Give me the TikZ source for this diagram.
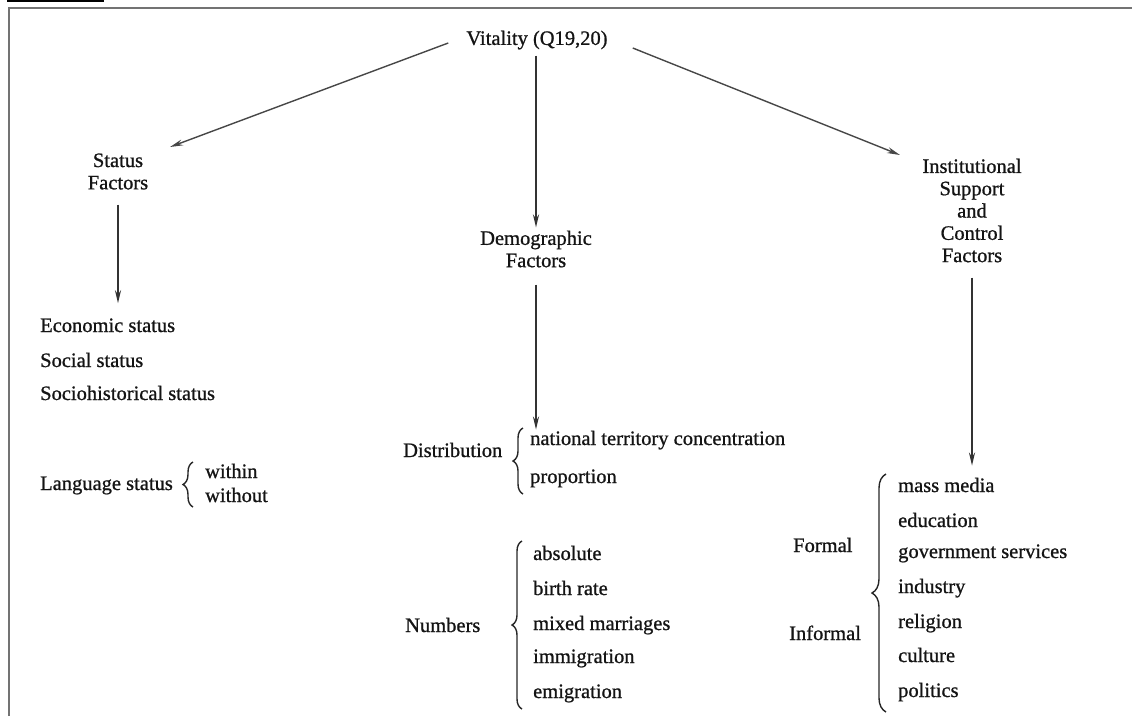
\documentclass[tikz,border=0pt]{standalone}
\usepackage{fontspec}
\setmainfont{Liberation Serif}[UprightFeatures={FakeBold=0.9}]
\usetikzlibrary{arrows.meta,decorations.pathreplacing,calc}
\begin{document}
\begin{tikzpicture}[x=1pt,y=-1pt,
  lbl/.style={inner sep=0pt, font=\fontsize{20.5}{22.3}\selectfont, text=black!92},
  hd/.style={lbl, align=center},
  itm/.style={lbl, anchor=base west},
  arr/.style={draw=black!72, line width=1.4pt, -{Stealth[length=13pt,width=6pt]}},
  varr/.style={arr, draw=black!80, line width=1.9pt},
  brc/.style={draw=black!85, line width=1.4pt, decorate, decoration={brace, amplitude=#1}},
  brc/.default=10pt,
  framel/.style={draw=black!55, line width=2pt}
]
\useasboundingbox (0,0) rectangle (1132,716);
% frame and cut-off heading underline
\draw[framel] (9,716) -- (9,8) -- (1132,8);
\fill[black] (7,0) rectangle (104,2);

% headings
\node[hd] (vit) at (537,40) {Vitality (Q19,20)};
\node[hd] (status) at (118,171.5) {Status\\Factors};
\node[hd] (demo) at (536,249) {Demographic\\Factors};
\node[hd] (inst) at (972,210.5) {Institutional\\Support\\and\\Control\\Factors};

% status factors
\node[itm] (econ) at (40,332) {Economic status};
\node[itm] (soc) at (40,367) {Social status};
\node[itm] (socio) at (40,400) {Sociohistorical status};
\node[itm] (lang) at (40,490) {Language status};
\node[itm] (within) at (205,478) {within};
\node[itm] (without) at (205,502) {without};
\draw[brc=10pt] (193,507) -- (193,462);

% demographic factors
\node[itm] (dist) at (403,457) {Distribution};
\node[itm] (nat) at (530,445) {national territory concentration};
\node[itm] (prop) at (530,483) {proportion};
\draw[brc=10pt] (523,494) -- (523,428);

\node[itm] (num) at (405,632) {Numbers};
\node[itm] (abs) at (533,560) {absolute};
\node[itm] (birth) at (533,595) {birth rate};
\node[itm] (mixed) at (533,630) {mixed marriages};
\node[itm] (immi) at (533,663) {immigration};
\node[itm] (emi) at (533,698) {emigration};
\draw[brc=10pt] (522,709) -- (522,541);

% institutional factors
\node[itm] (formal) at (793,552) {Formal};
\node[itm] (informal) at (789,640) {Informal};
\node[itm] (mass) at (898,492) {mass media};
\node[itm] (edu) at (898,527) {education};
\node[itm] (gov) at (898,558) {government services};
\node[itm] (ind) at (898,593) {industry};
\node[itm] (rel) at (898,628) {religion};
\node[itm] (cult) at (898,662) {culture};
\node[itm] (pol) at (898,697) {politics};
\draw[brc=14pt] (886,712) -- (886,474);

% arrows
\coordinate (stT) at (170,147);
\coordinate (inT) at (900,155);
\draw[arr] ($(vit.west)+(-18,3)$) -- (stT);
\draw[arr] ($(vit.east)+(25,8)$) -- (inT);
\draw[varr, shorten <=6pt, shorten >=3pt] (vit.south -| demo.north) -- (demo.north);
\draw[varr, shorten <=15pt, shorten >=15pt] (status.south) -- (status.south |- econ.north);
\draw[varr, shorten <=17pt, shorten >=1pt] (demo.south) -- (demo.south |- nat.north);
\draw[varr, shorten <=15pt, shorten >=12pt] (inst.south) -- (inst.south |- mass.north);
\end{tikzpicture}
\end{document}
